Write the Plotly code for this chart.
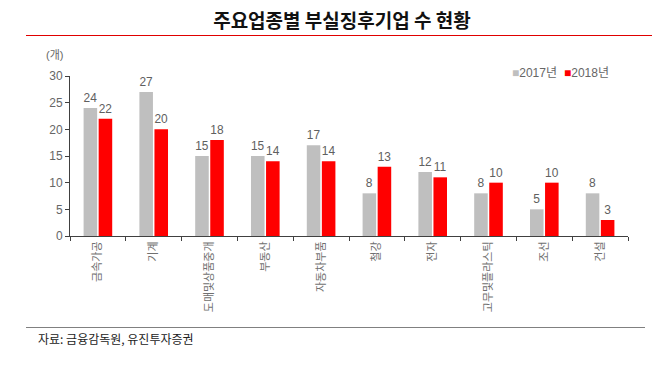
import plotly.graph_objects as go

categories = ["금속가공", "기계", "도매및상품중개", "부동산", "자동차부품", "철강", "전자", "고무및플라스틱", "조선", "건설"]
values_2017 = [24, 27, 15, 15, 17, 8, 12, 8, 5, 8]
values_2018 = [22, 20, 18, 14, 14, 13, 11, 10, 10, 3]
series_names = ["2017년", "2018년"]
series_colors = ["#bfbfbf", "#ff0000"]
y_ticks = [0, 5, 10, 15, 20, 25, 30]

FONT = "Arial, Liberation Sans, Noto Sans CJK KR"
KFONT = "Noto Sans CJK KR"
W, H = 670, 376
L, R, T, B = 70, 42, 76, 140
pw, ph = W - L - R, H - T - B

def px(x):
    return (x - L) / pw

def py(y):
    return (H - B - y) / ph

fig = go.Figure()
for name, vals, col in zip(series_names, [values_2017, values_2018], series_colors):
    fig.add_trace(go.Bar(x=categories, y=vals, name=name,
                         marker=dict(color=col, line=dict(width=0)),
                         text=vals, textposition="outside", cliponaxis=False,
                         textfont=dict(size=12, color="#606060", family=FONT)))

fig.update_layout(
    width=W, height=H,
    margin=dict(l=L, r=R, t=T, b=B, autoexpand=False),
    paper_bgcolor="white", plot_bgcolor="white",
    barmode="group", bargap=0.46, bargroupgap=0.1,
    font=dict(family=FONT, color="#666666", size=11),
    showlegend=False,
    title=dict(text="<b>주요업종별 부실징후기업 수 현황</b>", x=342 / W,
               xanchor="center", y=1 - 21 / H, yanchor="middle",
               xref="container", yref="container",
               font=dict(size=19, color="#111111", family=KFONT)),
    xaxis=dict(showline=True, linecolor="#404040", linewidth=1, ticks="outside",
               tickson="boundaries", ticklen=4, tickcolor="#404040", tickangle=-90,
               tickfont=dict(size=11, color="#707070", family=KFONT), showgrid=False),
    yaxis=dict(range=[0, 30], tickvals=y_ticks, showline=True, linecolor="#404040",
               linewidth=1, ticks="outside", ticklen=4, tickcolor="#404040",
               showgrid=False, zeroline=False,
               tickfont=dict(size=12, color="#666666", family=FONT)),
)

# legend as text squares
legend_x = [510, 562]
for name, col, lx in zip(series_names, series_colors, legend_x):
    fig.add_annotation(text=f"<span style='color:{col}'>■</span>{name}",
                       xref="paper", yref="paper", x=px(lx), y=py(73),
                       xanchor="left", yanchor="middle", showarrow=False,
                       font=dict(size=12, color="#666666", family=FONT))

fig.add_annotation(text="(개)", xref="paper", yref="paper", x=px(54), y=py(55),
                   xanchor="center", yanchor="middle", showarrow=False,
                   font=dict(size=11, color="#666666", family=FONT))
fig.add_annotation(text="자료: 금융감독원, 유진투자증권", xref="paper", yref="paper",
                   x=px(36), y=py(338), xanchor="left", yanchor="middle",
                   showarrow=False, font=dict(size=12, color="#222222", family=KFONT))
fig.add_shape(type="line", xref="paper", yref="paper", x0=px(26), x1=px(652),
              y0=py(35.5), y1=py(35.5), line=dict(color="#e00000", width=1))
fig.add_shape(type="line", xref="paper", yref="paper", x0=px(26), x1=px(645),
              y0=py(327.5), y1=py(327.5), line=dict(color="#808080", width=1))

fig.write_html("out.html", post_script="document.body.style.margin='0';",
               config={"displayModeBar": False})
